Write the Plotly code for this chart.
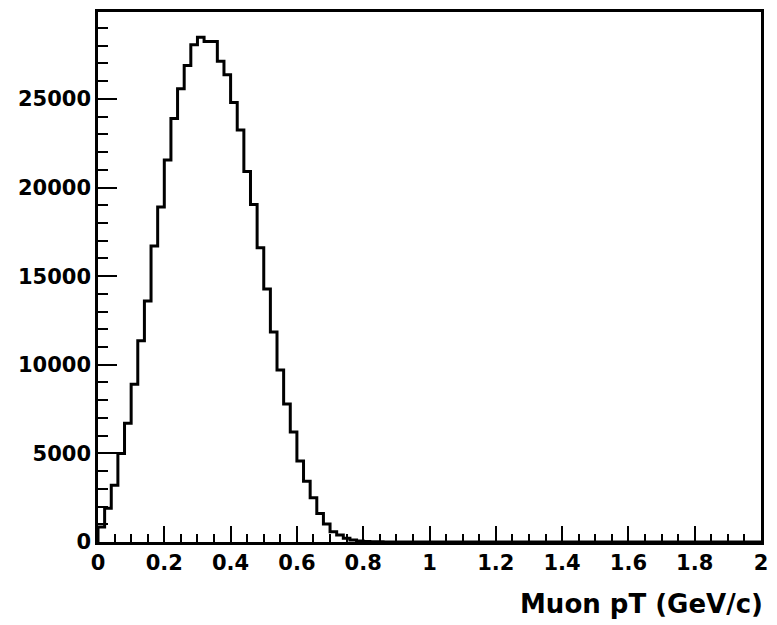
import plotly.graph_objects as go

# Histogram: Muon pT, 100 bins of width 0.02 GeV/c from 0 to 2
bin_edges = [round(i * 0.02, 2) for i in range(101)]
counts = [
    850, 1900, 3200, 5000, 6700, 8900, 11350, 13600, 16700, 18900,
    21550, 23900, 25580, 26890, 28050, 28480, 28240, 28240, 27120, 26370,
    24800, 23250, 20900, 19040, 16600, 14270, 11850, 9700, 7790, 6200,
    4570, 3430, 2490, 1610, 1010, 580, 390, 210, 110, 60,
    30, 15, 8, 4, 2, 0, 0, 0, 0, 0,
    0, 0, 0, 0, 0, 0, 0, 0, 0, 0,
    0, 0, 0, 0, 0, 0, 0, 0, 0, 0,
    0, 0, 0, 0, 0, 0, 0, 0, 0, 0,
    0, 0, 0, 0, 0, 0, 0, 0, 0, 0,
    0, 0, 0, 0, 0, 0, 0, 0, 0, 0,
]
x_title = "Muon pT (GeV/c)"

# step outline (ROOT-style histogram)
xs = [bin_edges[0]] + bin_edges[:-1] + [bin_edges[-1]]
ys = [0] + counts + [counts[-1]]

fig = go.Figure()
fig.add_trace(go.Scatter(
    x=xs, y=ys, mode="lines", line=dict(shape="hv", color="black", width=3),
    showlegend=False, hoverinfo="skip",
))

tick_font = dict(family="DejaVu Sans", size=21, color="black", weight="bold")

fig.update_layout(
    width=777, height=625,
    margin=dict(l=98, r=9, t=10, b=83),
    paper_bgcolor="white", plot_bgcolor="white",
    xaxis=dict(
        range=[0, 2], dtick=0.2, tick0=0,
        ticks="inside", ticklen=16, tickwidth=2, tickcolor="black",
        minor=dict(dtick=0.05, ticks="inside", ticklen=8, tickwidth=2, tickcolor="black"),
        showgrid=False, zeroline=False,
        showline=True, linecolor="black", linewidth=2.5, mirror=True,
        tickfont=tick_font,
    ),
    yaxis=dict(
        range=[0, max(counts) * 1.05], dtick=5000, tick0=0, tickformat="d",
        ticks="inside", ticklen=19, tickwidth=2, tickcolor="black",
        minor=dict(dtick=1000, ticks="inside", ticklen=10, tickwidth=2, tickcolor="black"),
        showgrid=False, zeroline=False,
        showline=True, linecolor="black", linewidth=2.5, mirror=True,
        tickfont=tick_font,
    ),
    annotations=[dict(
        text=x_title, xref="paper", yref="paper", x=1, y=0,
        xanchor="right", yanchor="middle", xshift=4, yshift=-62,
        showarrow=False,
        font=dict(family="DejaVu Sans", size=26, color="black", weight="bold"),
    )],
)

fig.write_html("out.html")
